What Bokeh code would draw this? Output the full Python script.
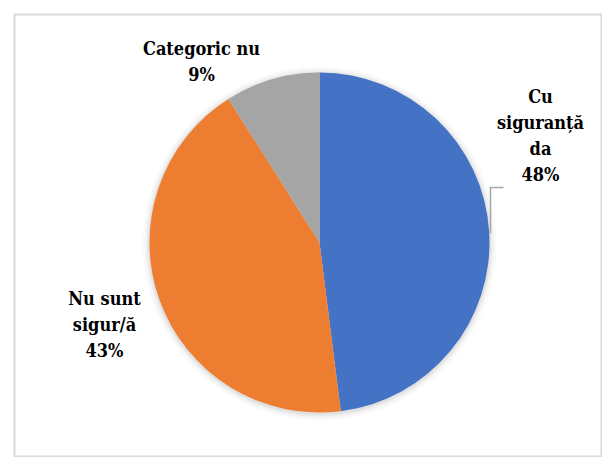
import numpy as np
from bokeh.plotting import figure
from bokeh.models import Range1d, ColumnDataSource
from bokeh.core.properties import value
from bokeh.embed import file_html
from bokeh.resources import INLINE

categories = ["Cu\nsiguranță\nda", "Nu sunt\nsigur/ă", "Categoric nu"]
percents = [48, 43, 9]
colors = ["#4472C4", "#ED7D31", "#A5A5A5"]

# label placement (layout, pixels relative to pie centre)
label_offsets = [(221, 107), (-215, -82), (-118, 181)]

R = 170
vals = np.array(percents, dtype=float)
frac = vals / vals.sum()
cum = np.concatenate([[0], np.cumsum(frac)])
start = np.pi / 2 - cum[:-1] * 2 * np.pi
end = np.pi / 2 - cum[1:] * 2 * np.pi

src = ColumnDataSource(dict(start=start, end=end, color=colors))

p = figure(width=602, height=457, output_backend="svg", toolbar_location=None,
           x_range=Range1d(-305, 283), y_range=Range1d(-215, 228),
           min_border_left=14, min_border_top=14, min_border_right=0, min_border_bottom=0)
p.axis.visible = False
p.grid.visible = False
p.outline_line_color = "#D9D9D9"
p.outline_line_width = 2
p.background_fill_color = "white"
p.border_fill_color = "white"

# soft shadow around the pie
for k, a in zip([7, 5, 3, 1.5], [0.03, 0.05, 0.07, 0.1]):
    p.circle(x=[0], y=[-1], radius=R + k, fill_color="#808080", fill_alpha=a, line_color=None)

p.wedge(x=0, y=0, radius=R, start_angle="start", end_angle="end", direction="clock",
        fill_color="color", line_color=None, source=src)

# leader line for the first label
p.line(x=[R + 1, R + 1, R + 14], y=[9, 55, 55], line_color="#A6A6A6", line_width=1.5)

lx = [o[0] for o in label_offsets]
ly = [o[1] for o in label_offsets]
texts = [f"{c}\n{v}%" for c, v in zip(categories, percents)]
p.text(x=lx, y=ly, text=texts, text_align="center", text_baseline="middle",
       text_font=value("DejaVu Serif Condensed"), text_font_style="bold",
       text_font_size="18px", text_line_height=1.25, text_color="black")

open("out.html", "w").write(file_html(p, INLINE))
